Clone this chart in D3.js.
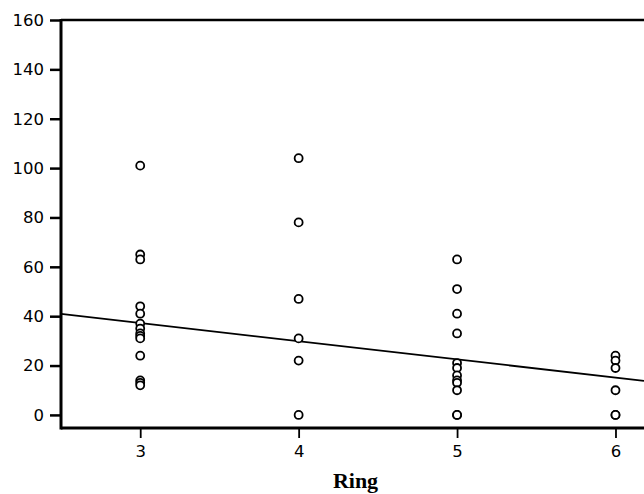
<!DOCTYPE html>
<meta charset="utf-8">
<script src="https://d3js.org/d3.v7.min.js"></script>
<style>
  body { margin: 0; background: #fff; }
  .tick text { font-family: "DejaVu Sans", Verdana, sans-serif; font-size: 16.5px; fill: #000; }
</style>
<div id="chart"></div>
<script>
// ring number and value for each point
var ring3 = [101, 65, 63, 44, 41, 37, 35, 33, 32, 31, 24, 14, 13, 12];
var ring4 = [104, 78, 47, 31, 22, 0];
var ring5 = [63, 51, 41, 33, 21, 19, 16, 14, 13, 10, 0, 0];
var ring6 = [24, 22, 19, 10, 0, 0];
var rings = [3, 4, 5, 6];
var yTicks = [0, 20, 40, 60, 80, 100, 120, 140, 160];
// fitted line: value = a + b * ring
var fit = { a: 59.3, b: -7.36 };

var points = [];
[ring3, ring4, ring5, ring6].forEach(function(arr, i) {
  arr.forEach(function(v) { points.push({ ring: rings[i], value: v }); });
});

var W = 644, H = 494;
var margin = { top: 20, right: 0, bottom: 66, left: 61 };
var width = W - margin.left - margin.right,
    height = H - margin.top - margin.bottom;

var svg = d3.select("#chart").append("svg")
    .attr("width", W).attr("height", H)
  .append("g")
    .attr("transform", "translate(" + margin.left + "," + margin.top + ")");

var x = d3.scaleLinear().domain([2.5, 6.18]).range([0, width]);
var y = d3.scaleLinear().domain([-5.3, 160]).range([height, 0]);

// fit line
var xd = x.domain();
svg.append("line")
    .attr("x1", x(xd[0])).attr("y1", y(fit.a + fit.b * xd[0]))
    .attr("x2", x(xd[1])).attr("y2", y(fit.a + fit.b * xd[1]))
    .attr("stroke", "#000").attr("stroke-width", 1.8);

svg.selectAll("circle.pt")
    .data(points)
  .enter().append("circle")
    .attr("class", "pt")
    .attr("cx", function(d) { return x(d.ring); })
    .attr("cy", function(d) { return y(d.value); })
    .attr("r", 4)
    .attr("fill", "#fff")
    .attr("stroke", "#000")
    .attr("stroke-width", 1.8);

// top border
svg.append("line")
    .attr("x1", 0).attr("x2", width).attr("y1", 0).attr("y2", 0)
    .attr("stroke", "#000").attr("stroke-width", 2.5);

var yAxis = svg.append("g")
    .call(d3.axisLeft(y).tickValues(yTicks).tickSize(11).tickPadding(6).tickFormat(d3.format("d")));
yAxis.select(".domain").remove();
yAxis.selectAll(".tick line").attr("stroke-width", 2.5);

var xAxis = svg.append("g")
    .attr("transform", "translate(0," + height + ")")
    .call(d3.axisBottom(x).tickValues(rings).tickSize(10).tickPadding(7).tickFormat(d3.format("d")));
xAxis.select(".domain").remove();
xAxis.selectAll(".tick line").attr("stroke-width", 1.8);

// axis lines
svg.append("line")
    .attr("x1", 0).attr("x2", 0).attr("y1", -1).attr("y2", height + 1.5)
    .attr("stroke", "#000").attr("stroke-width", 3);
svg.append("line")
    .attr("x1", 0).attr("x2", width).attr("y1", height).attr("y2", height)
    .attr("stroke", "#000").attr("stroke-width", 3);

svg.append("text")
    .attr("x", width / 2 + 3)
    .attr("y", height + 60)
    .attr("text-anchor", "middle")
    .style("font-family", "'Liberation Serif', 'Times New Roman', serif")
    .style("font-weight", "bold")
    .style("font-size", "22px")
    .text("Ring");
</script>
